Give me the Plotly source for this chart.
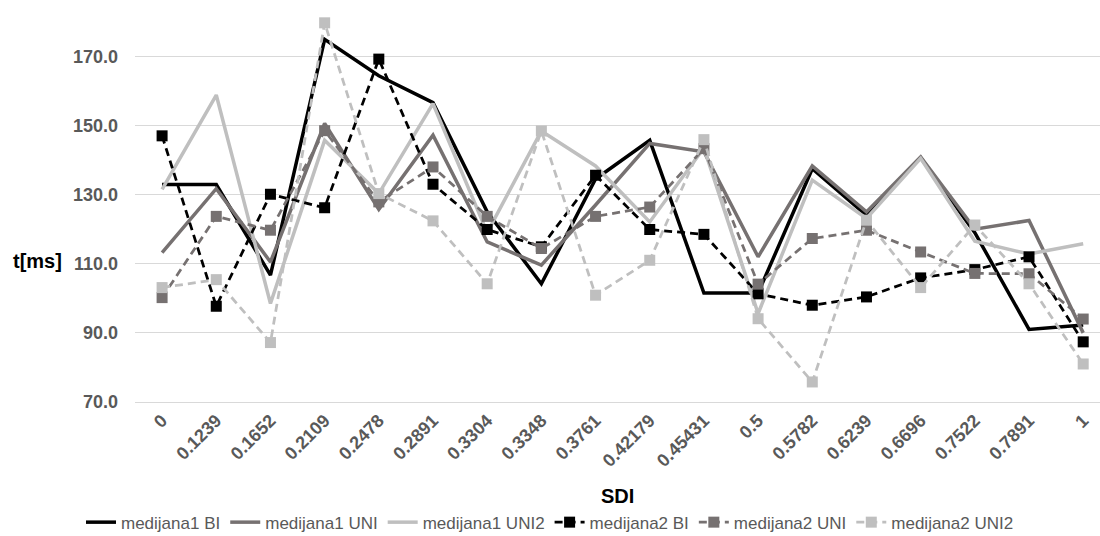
import plotly.graph_objects as go

categories = ["0", "0.1239", "0.1652", "0.2109", "0.2478", "0.2891", "0.3304", "0.3348", "0.3761",
              "0.42179", "0.45431", "0.5", "0.5782", "0.6239", "0.6696", "0.7522", "0.7891", "1"]

medijana1_BI = [132.9, 132.9, 106.7, 174.9, 164.4, 156.6, 125.0, 104.2, 134.5, 145.7, 101.5, 101.5,
                137.5, 124.0, 140.7, 119.0, 91.0, 92.3]
medijana1_UNI = [113.2, 131.7, 110.5, 150.6, 125.7, 147.2, 116.3, 109.6, 127.0, 144.8, 142.4, 112.0,
                 138.3, 125.0, 140.9, 120.0, 122.5, 90.0]
medijana1_UNI2 = [131.5, 158.8, 98.5, 145.7, 130.3, 156.3, 119.0, 148.4, 138.3, 122.1, 143.5, 95.6,
                  134.2, 123.1, 140.5, 116.5, 112.8, 115.8]
medijana2_BI = [147.0, 97.7, 130.1, 126.2, 169.2, 133.0, 119.9, 114.9, 135.6, 119.9, 118.5, 101.3,
                98.0, 100.4, 105.9, 108.3, 112.0, 87.4]
medijana2_UNI = [100.2, 123.7, 119.7, 148.5, 127.9, 138.0, 123.7, 114.4, 123.7, 126.4, 143.3, 104.1,
                 117.3, 119.7, 113.4, 107.2, 107.1, 94.0]
medijana2_UNI2 = [103.1, 105.4, 87.2, 179.7, 130.3, 122.4, 104.2, 148.4, 100.9, 111.0, 145.9, 94.1,
                  75.8, 122.6, 103.1, 121.2, 104.2, 81.0]

y_ticks = [70, 90, 110, 130, 150, 170]
y_tick_labels = ["70.0", "90.0", "110.0", "130.0", "150.0", "170.0"]

BLACK = "#000000"
DARK = "#767171"
LIGHT = "#bfbfbf"
TXT = "#595959"
FONT = "Liberation Sans, Arial, sans-serif"

fig = go.Figure()

solid = [("medijana1 BI", medijana1_BI, BLACK),
         ("medijana1 UNI", medijana1_UNI, DARK),
         ("medijana1 UNI2", medijana1_UNI2, LIGHT)]
dashed = [("medijana2 BI", medijana2_BI, BLACK),
          ("medijana2 UNI", medijana2_UNI, DARK),
          ("medijana2 UNI2", medijana2_UNI2, LIGHT)]

for name, vals, col in solid:
    fig.add_trace(go.Scatter(x=categories, y=vals, name=name, mode="lines",
                             line=dict(color=col, width=3.5)))
for name, vals, col in dashed:
    fig.add_trace(go.Scatter(x=categories, y=vals, name=name, mode="lines+markers",
                             line=dict(color=col, width=2.75, dash="8px,5px"),
                             marker=dict(symbol="square", size=11, color=col)))

fig.update_layout(
    width=1100, height=536,
    margin=dict(l=135, r=0, t=0, b=134),
    paper_bgcolor="white", plot_bgcolor="white",
    font=dict(family=FONT, color=TXT),
    xaxis=dict(type="category", range=[-0.5, 17.31], showgrid=False,
               tickangle=-45, tickfont=dict(size=18, color=TXT, family=FONT, weight="bold"),
               showline=True, linecolor="#d9d9d9", linewidth=1, ticks=""),
    yaxis=dict(range=[70, 186.3], tickvals=y_ticks, ticktext=y_tick_labels,
               showgrid=True, gridcolor="#d9d9d9", gridwidth=1, zeroline=False,
               tickfont=dict(size=18, color=TXT, family=FONT, weight="bold"),
               ticklabelstandoff=16),
    showlegend=True,
    legend=dict(orientation="h", xref="container", yref="container", x=0.5, xanchor="center",
                y=0.025, yanchor="middle", font=dict(size=17, color=TXT), itemwidth=30,
                tracegroupgap=0),
    annotations=[
        dict(text="<b>t[ms]</b>", xref="paper", yref="paper", x=0.0, xshift=-98,
             y=(110.8 - 70) / (186.3 - 70),
             showarrow=False, font=dict(size=20, color=BLACK), xanchor="center", yanchor="middle"),
        dict(text="<b>SDI</b>", xref="paper", yref="paper", x=0.5, y=0, yshift=-94,
             showarrow=False, font=dict(size=20, color=BLACK), xanchor="center", yanchor="middle"),
    ],
)

fig.write_html("out.html", config={"displayModeBar": False},
               post_script="document.body.style.margin='0';document.body.style.overflow='hidden';")
